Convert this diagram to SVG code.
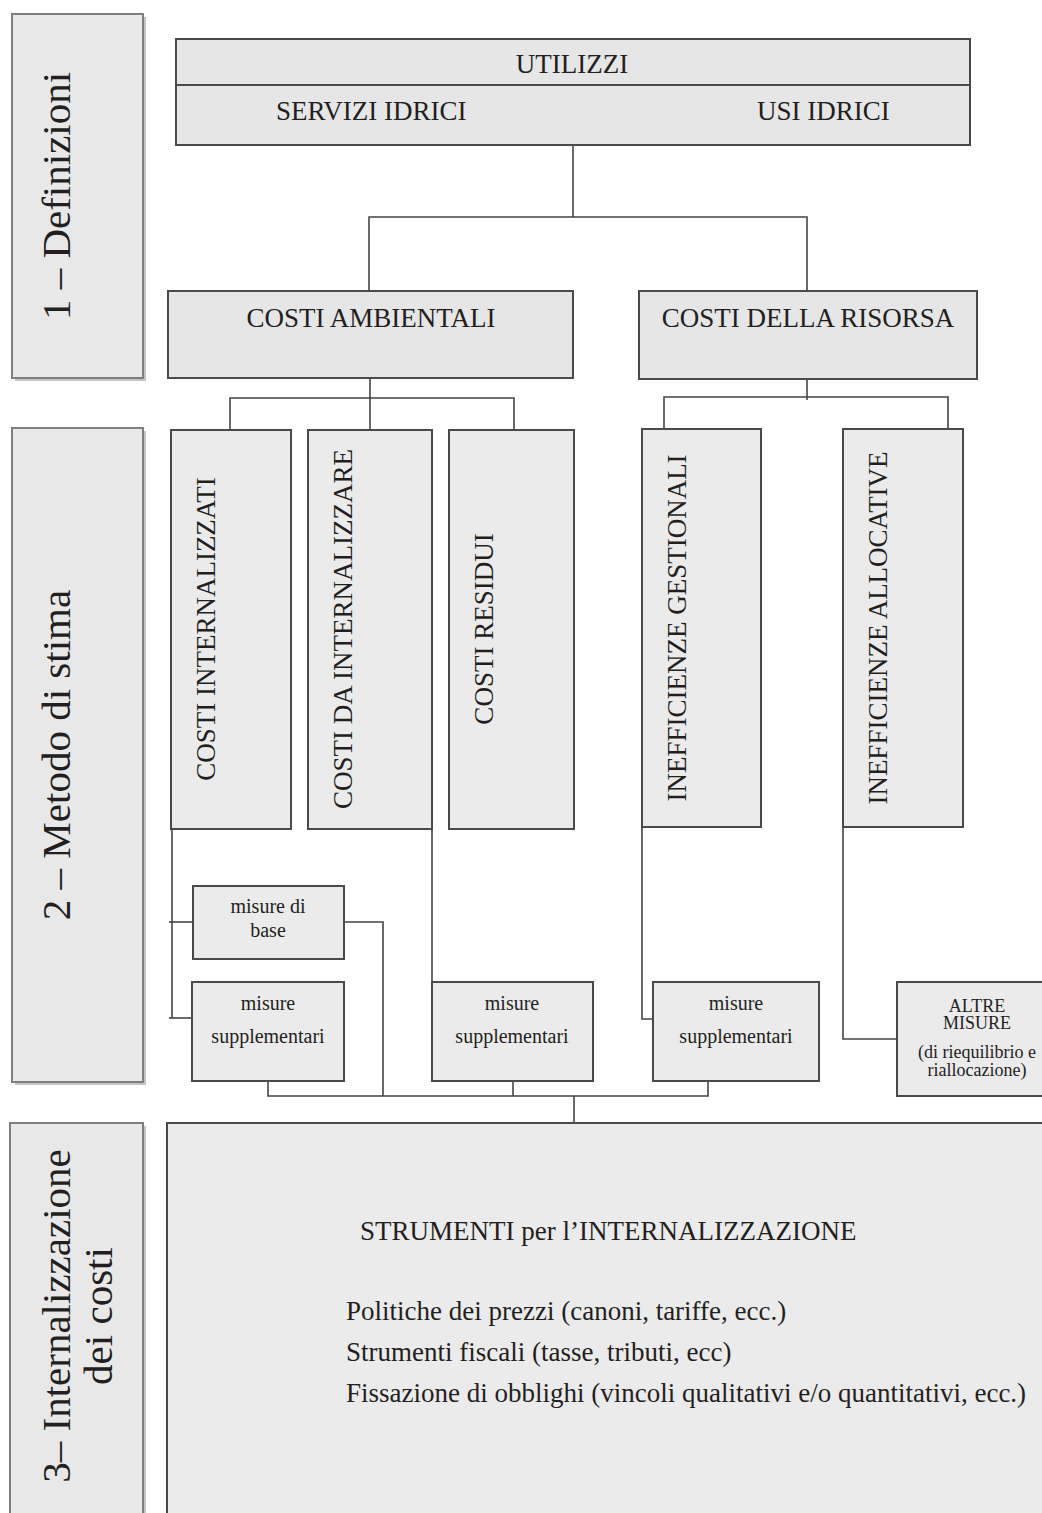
<svg xmlns="http://www.w3.org/2000/svg" width="1042" height="1513" viewBox="0 0 1042 1513">
<style>
text{font-family:"Liberation Serif","Times New Roman",serif;fill:#231f20}
.lbl{fill:#e8e8e8;stroke:#7f7f7f;stroke-width:2}
.shd{fill:#c4c4c4}
.box{fill:#e6e6e6;stroke:#4a4a4a;stroke-width:2}
.cbox{fill:#ebebeb;stroke:#4a4a4a;stroke-width:2}
.lt{font-size:41px}
.t27{font-size:27px}
.t20{font-size:20px}
.t18{font-size:18px}
.con line,.con polyline{stroke:#444;stroke-width:1.6;fill:none}
</style>
<rect width="1042" height="1513" fill="#fff"/>

<g id="label1">
<rect class="shd" x="15" y="17" width="131" height="364"/>
<rect class="lbl" x="12" y="14" width="131" height="364"/>
<text class="lt" transform="translate(70,196) rotate(-90)" text-anchor="middle">1 – Definizioni</text>
</g>
<g id="label2">
<rect class="shd" x="15" y="431" width="131" height="654"/>
<rect class="lbl" x="12" y="428" width="131" height="654"/>
<text class="lt" transform="translate(70,755) rotate(-90)" text-anchor="middle">2 – Metodo di stima</text>
</g>
<g id="label3">
<rect class="shd" x="13" y="1126" width="133" height="400"/>
<rect class="lbl" x="10" y="1123" width="133" height="400"/>
<text class="lt" transform="translate(70,1316) rotate(-90)" text-anchor="middle">3– Internalizzazione</text>
<text class="lt" transform="translate(112,1316) rotate(-90)" text-anchor="middle">dei costi</text>
</g>

<g class="con" id="connectors">
<line x1="573" y1="145" x2="573" y2="217"/>
<polyline points="369,291 369,217 807,217 807,291"/>
<line x1="370" y1="378" x2="370" y2="430"/>
<polyline points="230,430 230,398 514,398 514,430"/>
<line x1="807" y1="379" x2="807" y2="400"/>
<polyline points="664,432 664,397 948,397 948,430"/>
<line x1="172" y1="829" x2="172" y2="1018"/>
<line x1="169" y1="922" x2="193" y2="922"/>
<line x1="169" y1="1018" x2="193" y2="1018"/>
<polyline points="344,922 383,922 383,1096"/>
<polyline points="268,1081 268,1096 708,1096 708,1081"/>
<line x1="513" y1="1081" x2="513" y2="1096"/>
<line x1="574" y1="1096" x2="574" y2="1123"/>
<line x1="432" y1="829" x2="432" y2="982"/>
<polyline points="642,827 642,1019 653,1019"/>
<polyline points="843,827 843,1039 897,1039"/>
</g>

<g id="utilizzi">
<rect class="box" x="176" y="39" width="794" height="106"/>
<line x1="176" y1="85" x2="970" y2="85" stroke="#4a4a4a" stroke-width="2"/>
<text class="t27" x="572" y="73" text-anchor="middle">UTILIZZI</text>
<text class="t27" x="276" y="120">SERVIZI IDRICI</text>
<text class="t27" x="757" y="120">USI IDRICI</text>
</g>

<g id="costi-ambientali">
<rect class="box" x="168" y="291" width="405" height="87"/>
<text class="t27" x="371" y="327" text-anchor="middle">COSTI AMBIENTALI</text>
</g>
<g id="costi-risorsa">
<rect class="box" x="639" y="291" width="338" height="88"/>
<text class="t27" x="808" y="327" text-anchor="middle">COSTI DELLA RISORSA</text>
</g>

<g id="costi-internalizzati">
<rect class="cbox" x="171" y="430" width="120" height="399"/>
<text class="t27" transform="translate(215,629) rotate(-90)" text-anchor="middle">COSTI INTERNALIZZATI</text>
</g>
<g id="costi-da-internalizzare">
<rect class="cbox" x="308" y="430" width="124" height="399"/>
<text class="t27" transform="translate(352,629) rotate(-90)" text-anchor="middle">COSTI DA INTERNALIZZARE</text>
</g>
<g id="costi-residui">
<rect class="cbox" x="449" y="430" width="125" height="399"/>
<text class="t27" transform="translate(493,629) rotate(-90)" text-anchor="middle">COSTI RESIDUI</text>
</g>
<g id="ineff-gestionali">
<rect class="cbox" x="642" y="429" width="119" height="398"/>
<text class="t27" transform="translate(686,628) rotate(-90)" text-anchor="middle">INEFFICIENZE GESTIONALI</text>
</g>
<g id="ineff-allocative">
<rect class="cbox" x="843" y="429" width="120" height="398"/>
<text class="t27" transform="translate(887,628) rotate(-90)" text-anchor="middle">INEFFICIENZE ALLOCATIVE</text>
</g>

<g id="misure-base">
<rect class="cbox" x="193" y="886" width="151" height="73"/>
<text class="t20" x="268" y="913" text-anchor="middle">misure di</text>
<text class="t20" x="268" y="937" text-anchor="middle">base</text>
</g>
<g id="misure-suppl-1">
<rect class="cbox" x="192" y="982" width="152" height="99"/>
<text class="t20" x="268" y="1010" text-anchor="middle">misure</text>
<text class="t20" x="268" y="1043" text-anchor="middle">supplementari</text>
</g>
<g id="misure-suppl-2">
<rect class="cbox" x="432" y="982" width="161" height="99"/>
<text class="t20" x="512" y="1010" text-anchor="middle">misure</text>
<text class="t20" x="512" y="1043" text-anchor="middle">supplementari</text>
</g>
<g id="misure-suppl-3">
<rect class="cbox" x="653" y="982" width="166" height="99"/>
<text class="t20" x="736" y="1010" text-anchor="middle">misure</text>
<text class="t20" x="736" y="1043" text-anchor="middle">supplementari</text>
</g>
<g id="altre-misure">
<rect class="cbox" x="897" y="982" width="160" height="114"/>
<text class="t18" x="977" y="1012" text-anchor="middle">ALTRE</text>
<text class="t18" x="977" y="1029" text-anchor="middle">MISURE</text>
<text class="t18" x="977" y="1058" text-anchor="middle">(di riequilibrio e</text>
<text class="t18" x="977" y="1076" text-anchor="middle">riallocazione)</text>
</g>

<g id="strumenti">
<rect class="cbox" x="167" y="1123" width="890" height="400"/>
<text class="t27" x="360" y="1240">STRUMENTI per l’INTERNALIZZAZIONE</text>
<text class="t27" x="346" y="1320">Politiche dei prezzi (canoni, tariffe, ecc.)</text>
<text class="t27" x="346" y="1361">Strumenti fiscali (tasse, tributi, ecc)</text>
<text class="t27" x="346" y="1402">Fissazione di obblighi (vincoli qualitativi e/o quantitativi, ecc.)</text>
</g>
</svg>
